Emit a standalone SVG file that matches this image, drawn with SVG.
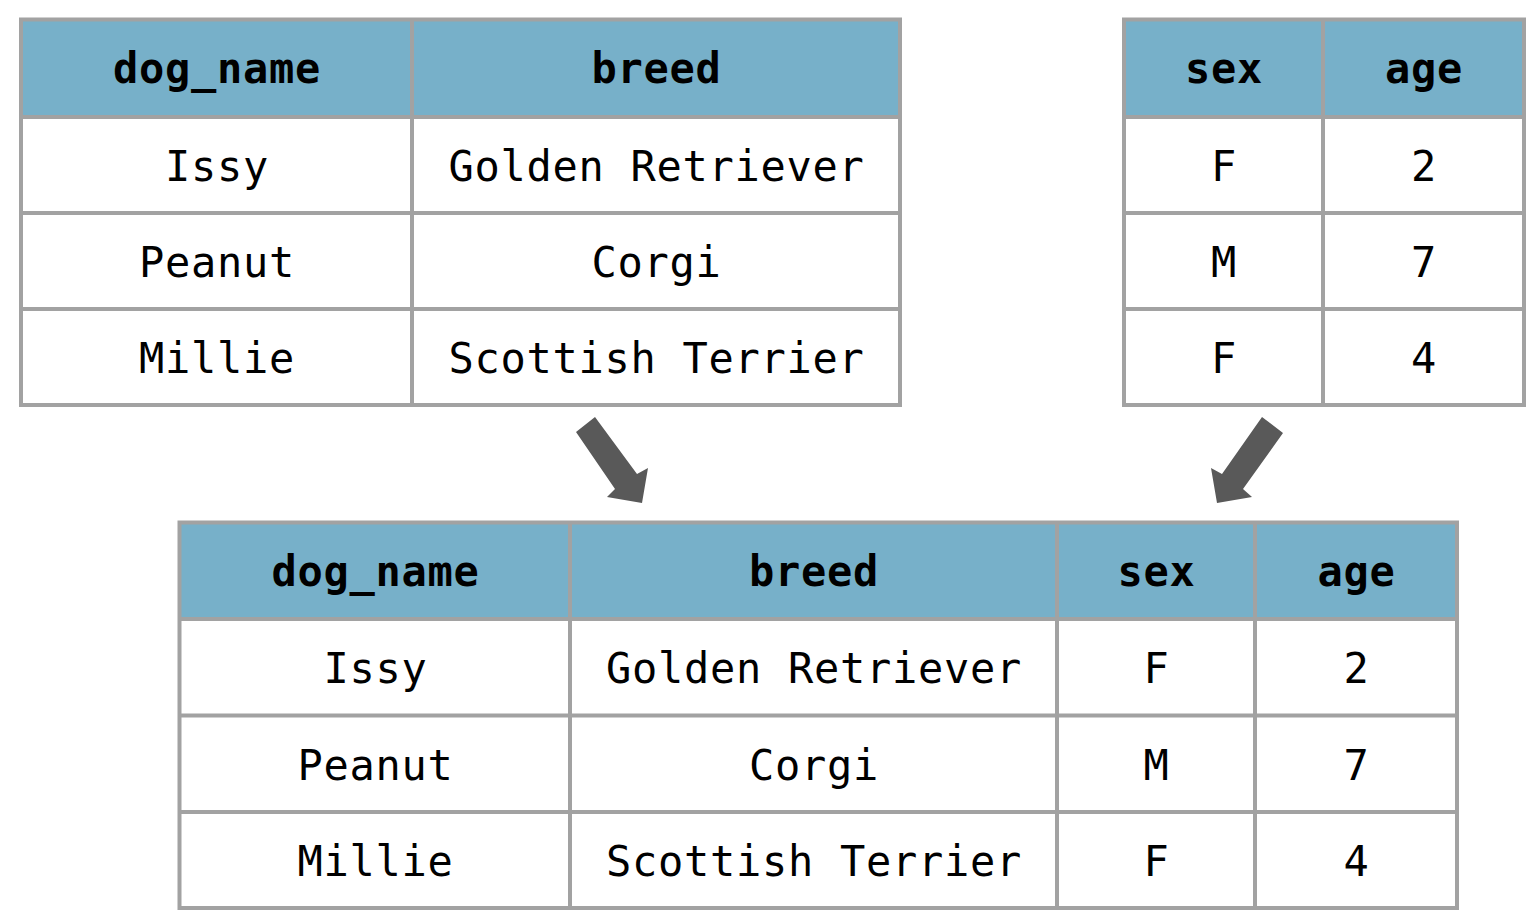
<svg xmlns="http://www.w3.org/2000/svg" width="1538" height="920" viewBox="0 0 1538 920">
<style>
.bg{fill:#ffffff;stroke:none}
.hd{fill:#77b0c9;stroke:none}
.grid{stroke:#a2a2a2;stroke-width:4;fill:none}
.h{font-family:"DejaVu Sans Mono","Liberation Mono",monospace;font-weight:bold;font-size:42px;letter-spacing:0.7px;fill:#000;text-anchor:middle}
.c{font-family:"DejaVu Sans Mono","Liberation Mono",monospace;font-size:42px;letter-spacing:0.7px;fill:#000;text-anchor:middle}
.arrow{fill:#595959;stroke:none}
</style>
<rect x="0" y="0" width="1538" height="920" fill="#ffffff"/>

<g id="table-dogs">
  <rect class="bg" x="21" y="19.5" width="879" height="385.5"/>
  <rect class="hd" x="21" y="19.5" width="879" height="97.5"/>
  <path class="grid" d="M21,19.5H900V405H21Z M21,117H900 M21,213H900 M21,309H900 M412,19.5V405"/>
  <text class="h" x="217" y="83">dog_name</text>
  <text class="h" x="656.5" y="83">breed</text>
  <text class="c" x="217" y="181">Issy</text>
  <text class="c" x="656.5" y="181">Golden Retriever</text>
  <text class="c" x="217" y="277">Peanut</text>
  <text class="c" x="656.5" y="277">Corgi</text>
  <text class="c" x="217" y="373">Millie</text>
  <text class="c" x="656.5" y="373">Scottish Terrier</text>
</g>

<g id="table-attrs">
  <rect class="bg" x="1124" y="19.5" width="400" height="385.5"/>
  <rect class="hd" x="1124" y="19.5" width="400" height="97.5"/>
  <path class="grid" d="M1124,19.5H1524V405H1124Z M1124,117H1524 M1124,213H1524 M1124,309H1524 M1323,19.5V405"/>
  <text class="h" x="1224" y="83">sex</text>
  <text class="h" x="1424" y="83">age</text>
  <text class="c" x="1224" y="181">F</text>
  <text class="c" x="1424" y="181">2</text>
  <text class="c" x="1224" y="277">M</text>
  <text class="c" x="1424" y="277">7</text>
  <text class="c" x="1224" y="373">F</text>
  <text class="c" x="1424" y="373">4</text>
</g>

<g id="table-combined">
  <rect class="bg" x="179.5" y="522.5" width="1277.5" height="385.5"/>
  <rect class="hd" x="179.5" y="522.5" width="1277.5" height="96.5"/>
  <path class="grid" d="M179.5,522.5H1457V908H179.5Z M179.5,619H1457 M179.5,715.5H1457 M179.5,812H1457 M570,522.5V908 M1057,522.5V908 M1255,522.5V908"/>
  <text class="h" x="375.5" y="585.5">dog_name</text>
  <text class="h" x="814" y="585.5">breed</text>
  <text class="h" x="1156.5" y="585.5">sex</text>
  <text class="h" x="1356.5" y="585.5">age</text>
  <text class="c" x="375.5" y="683">Issy</text>
  <text class="c" x="814" y="683">Golden Retriever</text>
  <text class="c" x="1156.5" y="683">F</text>
  <text class="c" x="1356.5" y="683">2</text>
  <text class="c" x="375.5" y="780">Peanut</text>
  <text class="c" x="814" y="780">Corgi</text>
  <text class="c" x="1156.5" y="780">M</text>
  <text class="c" x="1356.5" y="780">7</text>
  <text class="c" x="375.5" y="876">Millie</text>
  <text class="c" x="814" y="876">Scottish Terrier</text>
  <text class="c" x="1156.5" y="876">F</text>
  <text class="c" x="1356.5" y="876">4</text>
</g>

<g id="connectors">
  <path class="arrow" d="M576,432 L595,417 L637,474 L648,468 L642,503 L607,497 L615,489 Z"/>
  <path class="arrow" d="M1262,417 L1283,433 L1243,489 L1252,497 L1217,503 L1211,468 L1222,474 Z"/>
</g>
</svg>
